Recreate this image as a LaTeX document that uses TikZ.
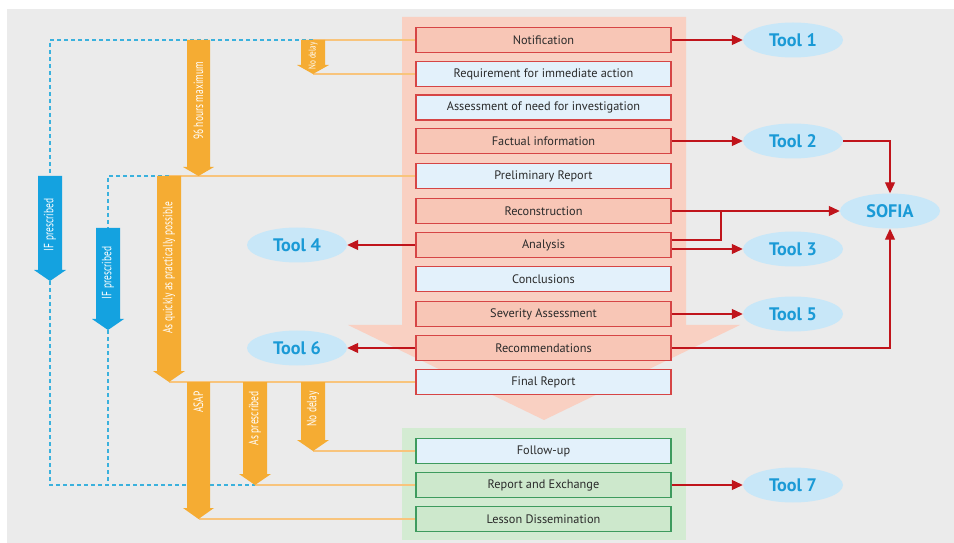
\documentclass[tikz,border=0pt]{standalone}
\usepackage{fontspec}
\setmainfont{PT Sans}
\usepackage{tikz}
\usetikzlibrary{arrows.meta,shapes.geometric}
\usepackage{xcolor}

\definecolor{bggray}{HTML}{EBEBEB}
\definecolor{pinkbg}{HTML}{F9D0C2}
\definecolor{greenbg}{HTML}{D3EBD2}
\definecolor{boxpink}{HTML}{F8C6B6}
\definecolor{boxblue}{HTML}{E3F1FB}
\definecolor{boxgreen}{HTML}{CDE8CC}
\definecolor{redborder}{HTML}{D64545}
\definecolor{greenborder}{HTML}{3E9B5E}
\definecolor{arrowred}{HTML}{C0141B}
\definecolor{fatorange}{HTML}{F5AC33}
\definecolor{lineorange}{HTML}{F8C47C}
\definecolor{dashblue}{HTML}{3AB1DD}
\definecolor{fatblue}{HTML}{14A2E0}
\definecolor{toolfill}{HTML}{C8E7F8}
\definecolor{tooltext}{HTML}{1A9AD6}
\definecolor{boxtext}{HTML}{2A2A2A}

\tikzset{
  stepbase/.style={draw, line width=1.3pt, minimum width=7.65cm, minimum height=0.75cm,
    inner sep=0pt, text=boxtext, font=\fontsize{10.5}{12}\selectfont},
  redstep/.style={stepbase, draw=redborder, fill=boxpink},
  bluestep/.style={stepbase, draw=redborder, fill=boxblue},
  greenstep/.style={stepbase, draw=greenborder, fill=boxgreen},
  followstep/.style={stepbase, draw=greenborder, fill=boxblue},
  tool/.style={ellipse, fill=toolfill, minimum width=3cm, minimum height=1.05cm, inner sep=0pt,
    text=tooltext, font=\fontsize{15.5}{17}\selectfont\bfseries},
  toolarrow/.style={arrowred, line width=1pt, -{Triangle[length=0.33cm, width=0.3cm]}},
  toolline/.style={arrowred, line width=1pt},
  timeline/.style={lineorange, line width=1.3pt},
  ifline/.style={dashblue, line width=1.6pt, dash pattern=on 0.12cm off 0.09cm},
  fatlabel/.style={rotate=90, text=white, inner sep=0pt, font=\fontsize{11.5}{13}\selectfont},
}

\begin{document}
\begin{tikzpicture}[x=0.03cm, y=-0.03cm]
    \useasboundingbox (0,0) rectangle (954,543);
    \fill [white] (0,0) rectangle (954,543);
    \fill [bggray] (7,9) rectangle (954,543);

    % big process arrow and follow-up block
    \fill [pinkbg] (402,17) -- (686,17) -- (686,325) -- (740,325) -- (544,420)
        -- (348,325) -- (402,325) -- cycle;
    \fill [greenbg] (402,428) rectangle (686,540);

    \coordinate (noDelayOneTop) at (313,40);
    \coordinate (noDelayOneTip) at (313,74);
    \coordinate (hoursTip) at (198.5,176);
    \coordinate (ifOneTop) at (50,176);
    \coordinate (ifOneTip) at (50,281);
    \coordinate (ifTwoTop) at (108,228);
    \coordinate (ifTwoTip) at (108,330);
    \coordinate (quickTop) at (169,176);
    \coordinate (quickTip) at (169,382);
    \coordinate (asapTip) at (198.5,519);
    \coordinate (presTip) at (255,485);
    \coordinate (noDelayTwoTip) at (313,451);
    \coordinate (recJoin) at (721,211);

    \node [redstep] (notif) at (543.5,40) {Notification};
    \node [bluestep] (req) at (543.5,74) {Requirement for immediate action};
    \node [bluestep] (assess) at (543.5,107.5) {Assessment of need for investigation};
    \node [redstep] (fact) at (543.5,141) {Factual information};
    \node [bluestep] (prelim) at (543.5,176) {Preliminary Report};
    \node [redstep] (recon) at (543.5,211) {Reconstruction};
    \node [redstep] (analysis) at (543.5,245) {Analysis};
    \node [bluestep] (concl) at (543.5,279) {Conclusions};
    \node [redstep] (sever) at (543.5,314) {Severity Assessment};
    \node [redstep] (recom) at (543.5,348) {Recommendations};
    \node [bluestep] (final) at (543.5,382) {Final Report};
    \node [followstep] (follow) at (543.5,451) {Follow-up};
    \node [greenstep] (report) at (543.5,485) {Report and Exchange};
    \node [greenstep] (lesson) at (543.5,519) {Lesson Dissemination};

    % time limits
    \draw [timeline] (notif.west) -- (noDelayOneTop);
    \draw [timeline] (req.west) -- (noDelayOneTip);
    \draw [timeline] (prelim.west) -- (quickTop);
    \draw [timeline] (final.west) -- (quickTip);
    \draw [timeline] (follow.west) -- (noDelayTwoTip);
    \draw [timeline] (report.west) -- (presTip);
    \draw [timeline] (lesson.west) -- (asapTip);

    \draw [ifline] (noDelayOneTop) -| (ifOneTop);
    \draw [ifline] (ifOneTip) |- (presTip);
    \draw [ifline] (quickTop) -| (ifTwoTop);
    \draw [ifline] (ifTwoTip) -- (ifTwoTip |- presTip);

    \fill [fatorange] (301,40) -- (325,40) -- (325,65) -- (329,65) -- (noDelayOneTip) -- (297,65) -- (301,65) -- cycle;
    \fill [fatorange] (187,40) -- (210,40) -- (210,167) -- (214,167) -- (hoursTip) -- (183,167) -- (187,167) -- cycle;
    \fill [fatblue] (38,176) -- (62,176) -- (62,270) -- (66,270) -- (ifOneTip) -- (34,270) -- (38,270) -- cycle;
    \fill [fatblue] (96,228) -- (120,228) -- (120,319) -- (124,319) -- (ifTwoTip) -- (92,319) -- (96,319) -- cycle;
    \fill [fatorange] (157,176) -- (181,176) -- (181,371) -- (185,371) -- (quickTip) -- (153,371) -- (157,371) -- cycle;
    \fill [fatorange] (187,382) -- (210,382) -- (210,508) -- (214,508) -- (asapTip) -- (183,508) -- (187,508) -- cycle;
    \fill [fatorange] (243,382) -- (267,382) -- (267,474) -- (271,474) -- (presTip) -- (239,474) -- (243,474) -- cycle;
    \fill [fatorange] (301,382) -- (325,382) -- (325,440) -- (329,440) -- (noDelayTwoTip) -- (297,440) -- (301,440) -- cycle;

    \node [fatlabel, font=\fontsize{8.5}{9}\selectfont] (noDelayOneText) at (313,56) {\scalebox{0.72}[1]{No delay}};
    \node [fatlabel] (hoursText) at (198.5,101) {\scalebox{0.7}[1]{96 hours maximum}};
    \node [fatlabel] (ifOneText) at (50,225) {\scalebox{0.7}[1]{IF prescribed}};
    \node [fatlabel] (ifTwoText) at (108,273) {\scalebox{0.7}[1]{IF prescribed}};
    \node [fatlabel] (quickText) at (169,268) {\scalebox{0.7}[1]{As quickly as practically possible}};
    \node [fatlabel, anchor=east] (asapText) at (198.5,391) {\scalebox{0.7}[1]{ASAP}};
    \node [fatlabel, anchor=east] (presText) at (255,391) {\scalebox{0.7}[1]{As prescribed}};
    \node [fatlabel, anchor=east] (noDelayTwoText) at (313,391) {\scalebox{0.7}[1]{No delay}};

    % tools
    \node [tool] (tool1) at (793,40) {Tool 1};
    \node [tool] (tool2) at (793,141) {Tool 2};
    \node [tool] (sofia) at (890,211) {SOFIA};
    \node [tool] (tool3) at (793,249) {Tool 3};
    \node [tool] (tool4) at (297,245) {Tool 4};
    \node [tool] (tool5) at (793,314) {Tool 5};
    \node [tool] (tool6) at (297,348) {Tool 6};
    \node [tool] (tool7) at (793,485) {Tool 7};

    \draw [toolarrow] (notif.east) -- (tool1.west);
    \draw [toolarrow] (fact.east) -- (tool2.west);
    \draw [toolarrow] (tool2.east) -| (sofia.north);
    \draw [toolarrow] (recon.east) -- (sofia.west);
    \draw [toolline] ([yshift=0.15cm]analysis.east) -| (recJoin);
    \draw [toolarrow] (analysis.east |- tool3.west) -- (tool3.west);
    \draw [toolarrow] (analysis.west) -- (tool4.east);
    \draw [toolarrow] (sever.east) -- (tool5.west);
    \draw [toolarrow] (recom.west) -- (tool6.east);
    \draw [toolarrow] (recom.east) -| (sofia.south);
    \draw [toolarrow] (report.east) -- (tool7.west);
\end{tikzpicture}
\end{document}
